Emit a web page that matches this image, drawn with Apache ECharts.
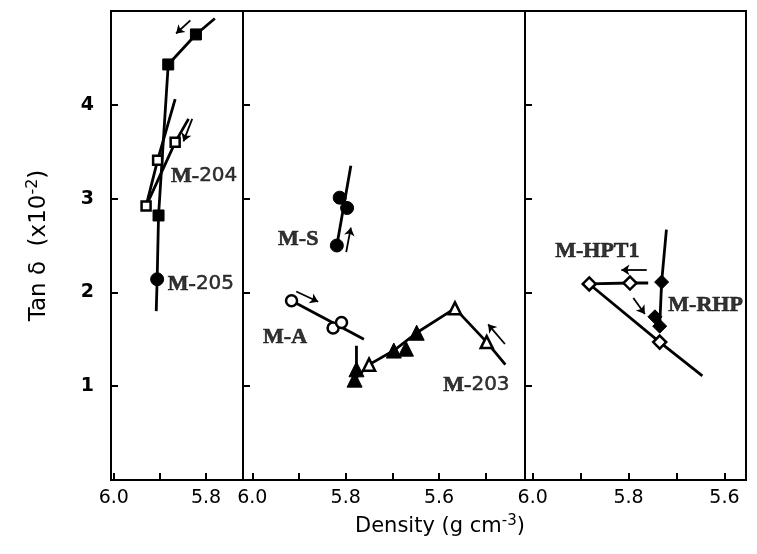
<!DOCTYPE html>
<html>
<head>
<meta charset="utf-8">
<script src="https://cdn.jsdelivr.net/npm/echarts@6/dist/echarts.min.js"></script>
<style>
  html, body { margin: 0; padding: 0; background: #fff; }
  #chart { width: 757px; height: 554px; }
</style>
</head>
<body>
<div id="chart"></div>
<script>
// y ticks (x10^-2)
const yTicks = [1, 2, 3, 4]
// x ticks per panel (density, g cm-3)
const xTicks = [[6.0, 5.9, 5.8], [6.0, 5.9, 5.8, 5.7, 5.6, 5.5], [6.0, 5.9, 5.8, 5.7, 5.6]]
const xLabels = [[6.0, 5.8], [6.0, 5.8, 5.6], [6.0, 5.8, 5.6]]

// panel 1
const m205Squares = [[5.822, 4.75], [5.882, 4.43], [5.903, 2.82]]
const m205Circle = [[5.906, 2.14]]
const m205Trace = [[5.781, 4.92], [5.822, 4.75], [5.882, 4.43], [5.903, 2.82], [5.906, 2.14], [5.908, 1.80]]
const m204Open = [[5.930, 2.92], [5.905, 3.41], [5.867, 3.60]]
const m204TraceA = [[5.930, 2.92], [5.905, 3.41], [5.867, 4.06]]
const m204TraceB = [[5.930, 2.92], [5.867, 3.60], [5.838, 3.85]]

// panel 2
const msCircles = [[5.819, 2.50], [5.797, 2.90], [5.813, 3.01]]
const msTrace = [[5.819, 2.50], [5.789, 3.35]]
const maCircles = [[5.916, 1.91], [5.827, 1.62], [5.809, 1.68]]
const maTrace = [[5.916, 1.91], [5.761, 1.50]]
const m203Filled = [[5.781, 1.07], [5.777, 1.18], [5.697, 1.38], [5.671, 1.40], [5.648, 1.57]]
const m203Open = [[5.750, 1.23], [5.566, 1.83], [5.498, 1.47]]
const m203Trace = [[5.781, 1.07], [5.750, 1.23], [5.697, 1.38], [5.648, 1.57], [5.566, 1.83], [5.498, 1.47], [5.458, 1.23]]
const m203Stem = [[5.777, 1.43], [5.777, 1.18]]

// panel 3
const hptOpen = [[5.882, 2.09], [5.797, 2.10], [5.735, 1.47]]
const hptTraceA = [[5.882, 2.09], [5.797, 2.10], [5.759, 2.10]]
const hptTraceB = [[5.882, 2.09], [5.735, 1.47], [5.646, 1.11]]
const rhpFilled = [[5.731, 2.11], [5.745, 1.74], [5.735, 1.64]]
const rhpTrace = [[5.721, 2.67], [5.731, 2.11], [5.735, 1.64]]

// arrows: panel, from, to
const arrows = [
  [0, [5.834, 4.90], [5.865, 4.76]],
  [0, [5.830, 3.85], [5.849, 3.61]],
  [1, [5.799, 2.43], [5.789, 2.69]],
  [1, [5.906, 2.01], [5.859, 1.90]],
  [1, [5.459, 1.45], [5.495, 1.66]],
  [2, [5.762, 2.24], [5.815, 2.24]],
  [2, [5.790, 1.94], [5.766, 1.77]]
]

// sample names: panel, x, y, text
const names = [
  [0, 5.877, 3.24, 'M-204'],
  [0, 5.884, 2.09, 'M-205'],
  [1, 5.946, 2.57, 'M-S'],
  [1, 5.978, 1.52, 'M-A'],
  [1, 5.592, 1.01, 'M-203'],
  [2, 5.954, 2.44, 'M-HPT1'],
  [2, 5.718, 1.86, 'M-RHP']
]

const ranges = [[5.72, 6.006], [5.416, 6.02], [5.555, 6.016]]
const grids = [
  { left: 111, top: 11, width: 132, height: 469 },
  { left: 243, top: 11, width: 282, height: 469 },
  { left: 525, top: 11, width: 221, height: 469 }
]

const ink = '#000'

let myChart = echarts.init(document.getElementById('chart'), null, { renderer: 'canvas' })

function trace(p, data) {
  return {
    type: 'line', xAxisIndex: p, yAxisIndex: p, data: data,
    symbol: 'none', silent: true, animation: false,
    lineStyle: { color: ink, width: 2.8 }
  }
}
function marks(p, data, symbol, size, hollow) {
  return {
    type: 'scatter', xAxisIndex: p, yAxisIndex: p, data: data,
    symbol: symbol, symbolSize: size, silent: true, animation: false,
    itemStyle: hollow
      ? { color: '#fff', borderColor: ink, borderWidth: 2.5, opacity: 1 }
      : { color: ink, borderColor: ink, borderWidth: 1, opacity: 1 },
    z: 3
  }
}

let series = [
  trace(0, m205Trace), trace(0, m204TraceA), trace(0, m204TraceB),
  marks(0, m205Squares, 'rect', 11, false),
  marks(0, m205Circle, 'circle', 13, false),
  marks(0, m204Open, 'rect', 9, true),

  trace(1, msTrace), trace(1, maTrace), trace(1, m203Trace), trace(1, m203Stem),
  marks(1, msCircles, 'circle', 13, false),
  marks(1, maCircles, 'circle', 11, true),
  marks(1, m203Filled, 'triangle', 15, false),
  marks(1, m203Open, 'triangle', 12, true),

  trace(2, hptTraceA), trace(2, hptTraceB), trace(2, rhpTrace),
  marks(2, hptOpen, 'diamond', 13, true),
  marks(2, rhpFilled, 'diamond', 14, false)
]

const nameRich = {
  m: { fontFamily: 'Liberation Serif', fontWeight: 'bold', fontSize: 22, color: ink, textBorderColor: ink, textBorderWidth: 0.6 },
  s: { fontFamily: 'Liberation Serif', fontWeight: 'bold', fontSize: 22, color: ink, textBorderColor: ink, textBorderWidth: 0.6 },
  d: { fontFamily: 'DejaVu Sans', fontSize: 20, color: ink, textBorderColor: ink, textBorderWidth: 0.5 }
}

for (let p = 0; p < 3; p++) {
  series.push({
    type: 'lines', coordinateSystem: 'cartesian2d', xAxisIndex: p, yAxisIndex: p,
    silent: true, animation: false,
    symbol: ['none', 'arrow'], symbolSize: 8,
    lineStyle: { color: ink, width: 1.8, opacity: 1 },
    data: arrows.filter(a => a[0] === p).map(a => ({ coords: [a[1], a[2]] }))
  })
  series.push({
    type: 'scatter', xAxisIndex: p, yAxisIndex: p, silent: true, animation: false,
    symbolSize: 1, itemStyle: { color: 'rgba(0,0,0,0)' },
    data: names.filter(n => n[0] === p).map(n => ({ value: [n[1], n[2]], name: n[3] })),
    label: {
      show: true, position: 'right', distance: 0, color: ink,
      formatter: function (d) {
        let rest = d.name.slice(2)
        return '{m|M-}' + (/^\d+$/.test(rest) ? '{d|' + rest + '}' : '{s|' + rest + '}')
      },
      rich: nameRich
    },
    z: 4
  })
}

let option = {
  backgroundColor: '#fff',
  animation: false,
  grid: grids.map(g => Object.assign({ show: true, borderColor: ink, borderWidth: 2, backgroundColor: 'transparent' }, g)),
  xAxis: ranges.map((r, p) => ({
    type: 'value', gridIndex: p, inverse: true, min: r[0], max: r[1],
    splitLine: { show: false },
    axisLine: { show: true, onZero: false, lineStyle: { color: ink, width: 2 } },
    axisTick: { show: true, inside: true, length: 7, customValues: xTicks[p], lineStyle: { color: ink, width: 2 } },
    axisLabel: {
      show: true, customValues: xLabels[p], margin: 9,
      formatter: v => v.toFixed(1),
      fontFamily: 'DejaVu Sans', fontSize: 19, color: ink
    }
  })),
  yAxis: grids.map((g, p) => ({
    type: 'value', gridIndex: p, min: 0, max: 5,
    splitLine: { show: false },
    axisLine: { show: true, lineStyle: { color: ink, width: 2 } },
    axisTick: { show: true, inside: true, length: 7, customValues: yTicks, lineStyle: { color: ink, width: 2 } },
    axisLabel: {
      show: p === 0, customValues: yTicks, margin: 17,
      fontFamily: 'DejaVu Sans', fontWeight: 'bold', fontSize: 19, color: ink
    },
    name: p === 0 ? 'Tan δ  (x10{sup|-2})' : '',
    nameLocation: 'middle', nameGap: 58, nameRotate: 90,
    nameTextStyle: {
      fontFamily: 'DejaVu Sans', fontSize: 23, color: ink,
      rich: { sup: { fontFamily: 'DejaVu Sans', fontSize: 16, color: ink, padding: [0, 0, 12, 0] } }
    }
  })),
  graphic: [{
    type: 'text', left: 355, top: 514, silent: true,
    style: {
      text: 'Density (g cm{sup|-3})',
      fontFamily: 'DejaVu Sans', fontSize: 21, fill: ink,
      rich: { sup: { fontFamily: 'DejaVu Sans', fontSize: 15, fill: ink, padding: [0, 0, 11, 0] } }
    }
  }],
  series: series
}

myChart.setOption(option)
</script>
</body>
</html>
